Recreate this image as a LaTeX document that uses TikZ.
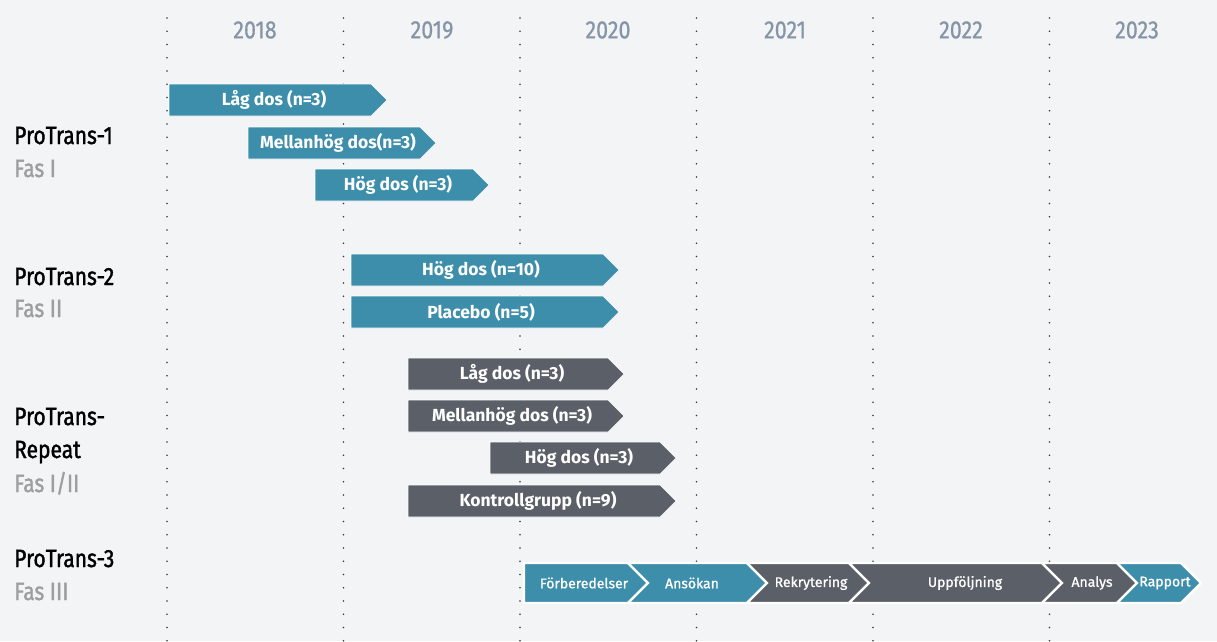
\documentclass[tikz,border=0pt]{standalone}
\usepackage{fontspec}
\setmainfont{Fira Sans}
\newfontfamily\condfont[FakeStretch=0.86,FakeBold=0.6]{Fira Sans}
\newfontfamily\condfontb[FakeStretch=0.84,FakeBold=1.5]{Fira Sans}
\newfontfamily\medfont[FakeBold=1.0]{Fira Sans}
\definecolor{bg}{HTML}{F3F4F6}
\definecolor{teal}{HTML}{3D8EAB}
\definecolor{slate}{HTML}{5B6068}
\definecolor{yearc}{HTML}{8594A6}
\definecolor{fasc}{HTML}{9E9E9E}
\definecolor{dotc}{HTML}{3A3A3A}
\tikzset{
  yearlbl/.style={font=\condfont\fontsize{25}{25}\selectfont, text=yearc, anchor=center, inner sep=0pt},
  trial/.style={font=\condfontb\fontsize{25}{25}\selectfont, text=black, anchor=base west, inner sep=0pt},
  fas/.style={font=\condfontb\fontsize{25}{25}\selectfont, text=fasc, anchor=base west, inner sep=0pt},
  bartext/.style={font=\bfseries\fontsize{17.5}{17.5}\selectfont, text=white, inner sep=0pt},
  chevtext/.style={font=\medfont\fontsize{14}{14}\selectfont, text=white, inner sep=0pt},
  barshape/.style={draw=white!85!bg, line width=0.6pt},
  chevshape/.style={draw=white, line width=2.2pt, line join=miter},
}
% name, x1, x2 (rect right), ytop, colour, text
\newcommand\mybar[6]{%
  \path[barshape, fill=#5] (#2,#4) -- (#3,#4) -- ({#3+16},{#4+16}) -- (#3,{#4+32}) -- (#2,{#4+32}) -- cycle;
  \node[bartext] (#1) at ({(#2+#3+8)/2},{#4+16}) {#6};}
% name, L, R, colour, text centre, text
\newcommand\mychev[6]{%
  \path[chevshape, fill=#4] (#2,563) -- (#3,563) -- ({#3+20},583) -- (#3,603) -- (#2,603) -- ({#2+20},583) -- cycle;
  \node[chevtext] (#1) at (#5,583) {#6};}
\begin{document}
\begin{tikzpicture}[x=1pt,y=-1pt]
\fill[bg] (0,0) rectangle (1217,641);
\useasboundingbox (0,0) rectangle (1217,641);
% dotted year separators
\foreach \xx [count=\i] in {167,343.5,520,696.5,873,1049.5}{
  \coordinate (sep\i) at (\xx,18);
  \foreach \yy in {0,...,47}{
    \fill[dotc] ({\xx},{18+13.25*\yy}) circle (0.9);
  }
}
% years
\node[yearlbl] (y2018) at (255,30) {2018};
\node[yearlbl] (y2019) at (432,30) {2019};
\node[yearlbl] (y2020) at (608,30) {2020};
\node[yearlbl] (y2021) at (785,30) {2021};
\node[yearlbl] (y2022) at (961,30) {2022};
\node[yearlbl] (y2023) at (1137,30) {2023};
% trial labels
\node[trial] (pt1) at (14,144) {ProTrans-1};
\node[fas] (f1) at (14,177) {Fas I};
\node[trial] (pt2) at (14,285) {ProTrans-2};
\node[fas] (f2) at (14,317) {Fas II};
\node[trial] (ptr) at (14,425) {ProTrans-};
\node[trial] (ptr2) at (14,458) {Repeat};
\node[fas] (fr) at (14,492) {Fas I/II};
\node[trial] (pt3) at (14,567) {ProTrans-3};
\node[fas] (f3) at (14,600) {Fas III};
% ProTrans-1
\mybar{a1}{169}{371}{84}{teal}{Låg dos (n=3)}
\mybar{a2}{248}{420}{127}{teal}{Mellanhög dos(n=3)}
\mybar{a3}{315}{473}{169}{teal}{Hög dos (n=3)}
% ProTrans-2
\mybar{b1}{351}{603}{254}{teal}{Hög dos (n=10)}
\mybar{b2}{351}{603}{296}{teal}{Placebo (n=5)}
% ProTrans-Repeat
\mybar{c1}{408}{608}{358}{slate}{Låg dos (n=3)}
\mybar{c2}{408}{608}{400}{slate}{Mellanhög dos (n=3)}
\mybar{c3}{490}{660}{442}{slate}{Hög dos (n=3)}
\mybar{c4}{408}{660}{485}{slate}{Kontrollgrupp (n=9)}
% ProTrans-3 phases
\path[chevshape, fill=teal] (524,563) -- (628,563) -- (648,583) -- (628,603) -- (524,603) -- cycle;
\node[chevtext] (d1) at (584,583) {Förberedelser};
\mychev{d2}{628}{747}{teal}{692}{Ansökan}
\mychev{d3}{747}{849}{slate}{811}{Rekrytering}
\mychev{d4}{849}{1042}{slate}{965}{Uppföljning}
\mychev{d5}{1042}{1117}{slate}{1092}{Analys}
\mychev{d6}{1117}{1181}{teal}{1165}{Rapport}
\end{tikzpicture}
\end{document}
